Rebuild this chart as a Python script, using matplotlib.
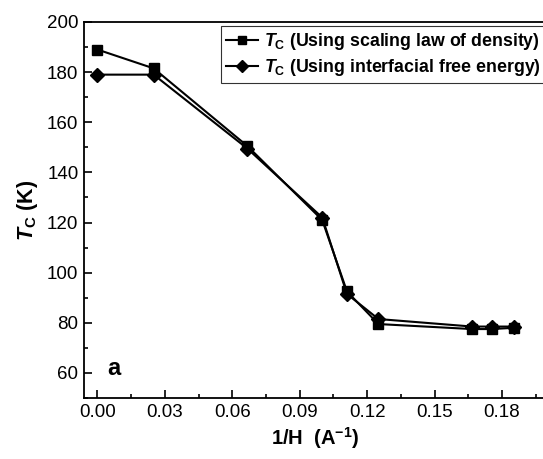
import matplotlib
matplotlib.use("Agg")
import matplotlib.pyplot as plt
from matplotlib.ticker import MultipleLocator, FormatStrFormatter

plt.rcParams['font.family'] = ['Liberation Sans', 'DejaVu Sans']
plt.rcParams['mathtext.fontset'] = 'custom'
plt.rcParams['mathtext.rm'] = 'Liberation Sans:bold'
plt.rcParams['mathtext.it'] = 'Liberation Sans:italic:bold'
plt.rcParams['mathtext.bf'] = 'Liberation Sans:bold'

inv_h = [0.0, 0.025, 0.0667, 0.1, 0.111, 0.125, 0.1667, 0.1754, 0.1852]
tc_density = [189, 181.5, 150.5, 121, 92.5, 79.5, 77.5, 77.5, 78]
tc_energy = [179, 179, 149.5, 122, 91.5, 81.5, 78.5, 78.5, 78.5]
label_density = r'$\mathit{T}_\mathbf{C}$ (Using scaling law of density)'
label_energy = r'$\mathit{T}_\mathbf{C}$ (Using interfacial free energy)'

W, H = 543, 459
fig = plt.figure(figsize=(W/100, H/100), dpi=100)
left, right, bottom, top = 84, 547, 398, 22
ax = fig.add_axes([left/W, 1-bottom/H, (right-left)/W, (bottom-top)/H])

ax.plot(inv_h, tc_density, '-s', color='black', lw=1.5, ms=7.5, label=label_density, zorder=3)
ax.plot(inv_h, tc_energy, '-D', color='black', lw=1.5, ms=7.5, label=label_energy, zorder=3)

ax.set_xlim(-0.006, 0.2)
ax.set_ylim(50, 200)
ax.xaxis.set_major_locator(MultipleLocator(0.03))
ax.xaxis.set_minor_locator(MultipleLocator(0.015))
ax.xaxis.set_major_formatter(FormatStrFormatter('%.2f'))
ax.yaxis.set_major_locator(MultipleLocator(20))
ax.yaxis.set_minor_locator(MultipleLocator(10))
ax.tick_params(which='both', direction='in', labelsize=13.5, width=1.2)
ax.tick_params(which='major', length=6, pad=4)
ax.tick_params(which='minor', length=3)
for s in ax.spines.values():
    s.set_linewidth(1.3)

ax.set_xlabel(r'1/H  (A$^{\mathbf{-1}}$)', fontsize=14.5, fontweight='bold', labelpad=3)
ax.set_ylabel(r'$\mathit{T}_\mathbf{C}$ (K)', fontsize=15.5, fontweight='bold', labelpad=5)

ax.text(0.0045, 59, 'a', fontsize=17, fontweight='bold')

leg = ax.legend(loc='upper left', bbox_to_anchor=(221/W, 1-26/H), bbox_transform=fig.transFigure,
                prop={'weight': 'bold', 'size': 12.8}, frameon=True, fancybox=False,
                edgecolor='black', handlelength=1.8, handletextpad=0.3, borderpad=0.3,
                labelspacing=0.25, borderaxespad=0, markerscale=0.85)
leg.get_frame().set_linewidth(0.8)
leg.get_frame().set_clip_on(False)

fig.savefig('out.png', dpi=100)
